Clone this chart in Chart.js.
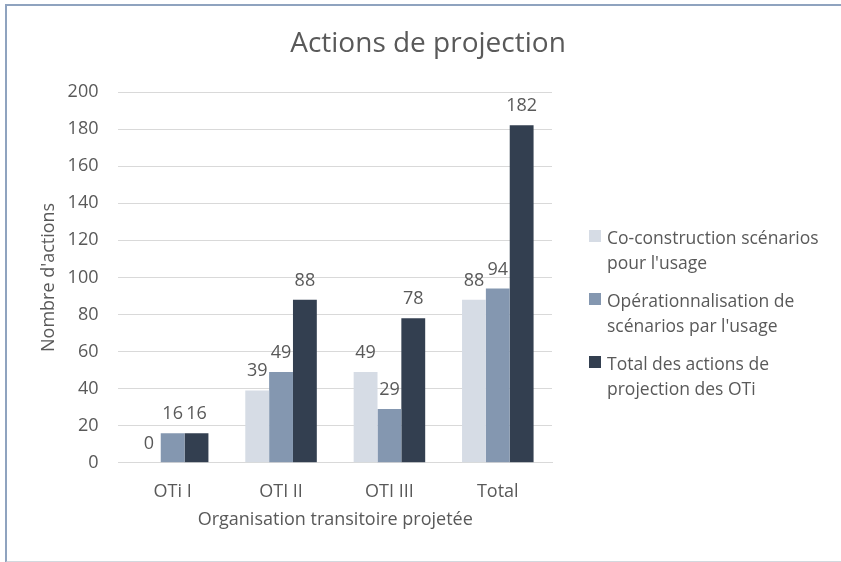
<!DOCTYPE html>
<html>
<head>
<meta charset="utf-8">
<script src="https://cdn.jsdelivr.net/npm/chart.js@4.4.1/dist/chart.umd.min.js"></script>
<style>
  body { margin: 0; background: #fff; }
  #wrap { position: relative; width: 841px; height: 562px; overflow: hidden; }
  #frame {
    position: absolute; left: 5px; top: 4px; width: 860px; height: 555px;
    border-left: 2px solid #8FA3BF; border-top: 2px solid #8FA3BF; border-bottom: 2px solid #D3D8DE;
  }
  #myChart { position: absolute; left: 0; top: 0; }
  #legend {
    position: absolute; left: 589px; top: 225px;
    font-family: "Open Sans", sans-serif; font-size: 17.5px; color: #595959;
  }
  .item { display: flex; align-items: flex-start; margin-bottom: 14px; line-height: 24.5px; }
  .box { width: 12px; height: 12px; margin: 5px 6px 0 0; flex: none; }
</style>
</head>
<body>
<div id="wrap">
  <div id="frame"></div>
  <canvas id="myChart" width="841" height="562"></canvas>
  <div id="legend"></div>
</div>
<script>
// categories and values
var categories = ['OTi I', 'OTI II', 'OTI III', 'Total'];
var coConstruction = [0, 39, 49, 88];
var operationnalisation = [16, 49, 29, 94];
var totalActions = [16, 88, 78, 182];
var seriesNames = [
    ['Co-construction scénarios', "pour l'usage"],
    ['Opérationnalisation de', "scénarios par l'usage"],
    ['Total des actions de', 'projection des OTi']
];
var seriesColors = ['#D6DCE5', '#8497B0', '#333F50'];
var yTicks = [0, 20, 40, 60, 80, 100, 120, 140, 160, 180, 200];

var fontFamily = '"Open Sans", sans-serif';
var textColor = '#595959';

// valeur au-dessus de chaque barre
var valueLabels = {
    id: 'valueLabels',
    afterDatasetsDraw: function (chart) {
        var c = chart.ctx;
        c.save();
        c.font = '18px ' + fontFamily;
        c.fillStyle = textColor;
        c.textAlign = 'center';
        c.textBaseline = 'alphabetic';
        chart.data.datasets.forEach(function (ds, i) {
            chart.getDatasetMeta(i).data.forEach(function (bar, j) {
                c.fillText(ds.data[j], bar.x, bar.y - 14);
            });
        });
        c.restore();
    }
};

// titre centré sur toute la largeur
var chartTitle = {
    id: 'chartTitle',
    afterDraw: function (chart) {
        var c = chart.ctx;
        c.save();
        c.font = '28px ' + fontFamily;
        c.fillStyle = textColor;
        c.textAlign = 'center';
        c.textBaseline = 'alphabetic';
        c.fillText('Actions de projection', 428, 52);
        c.restore();
    }
};

var datasets = [coConstruction, operationnalisation, totalActions].map(function (d, i) {
    return {
        label: seriesNames[i].join(' '),
        data: d,
        backgroundColor: seriesColors[i],
        categoryPercentage: 0.66,
        barPercentage: 1.0
    };
});

var ctx = document.getElementById('myChart');
var barchart = new Chart(ctx, {
    type: 'bar',
    data: { labels: categories, datasets: datasets },
    plugins: [valueLabels, chartTitle],
    options: {
        responsive: false,
        animation: false,
        layout: { padding: { left: 38, top: 92, right: 289, bottom: 31 } },
        plugins: {
            legend: { display: false },
            title: { display: false },
            tooltip: { enabled: false }
        },
        scales: {
            x: {
                grid: { display: false, drawTicks: false },
                border: { color: '#D9D9D9', width: 1 },
                ticks: { color: textColor, font: { family: fontFamily, size: 18 }, padding: 18 },
                title: {
                    display: true, text: 'Organisation transitoire projetée',
                    color: textColor, font: { family: fontFamily, size: 18 }, padding: { top: -11, bottom: 0 }
                }
            },
            y: {
                min: 0, max: 200,
                afterBuildTicks: function (axis) {
                    axis.ticks = yTicks.map(function (v) { return { value: v }; });
                },
                grid: { color: '#D9D9D9', drawTicks: false },
                border: { display: false },
                ticks: { color: textColor, font: { family: fontFamily, size: 18 }, padding: 20 },
                title: {
                    display: true, text: "Nombre d'actions",
                    color: textColor, font: { family: fontFamily, size: 18 }, padding: { top: 0, bottom: -12 }
                }
            }
        }
    }
});

// légende à droite, libellés sur deux lignes
var legend = document.getElementById('legend');
seriesNames.forEach(function (lines, i) {
    var item = document.createElement('div');
    item.className = 'item';
    var box = document.createElement('div');
    box.className = 'box';
    box.style.background = seriesColors[i];
    var txt = document.createElement('div');
    txt.innerHTML = lines.join('<br>');
    item.appendChild(box);
    item.appendChild(txt);
    legend.appendChild(item);
});
</script>
</body>
</html>
